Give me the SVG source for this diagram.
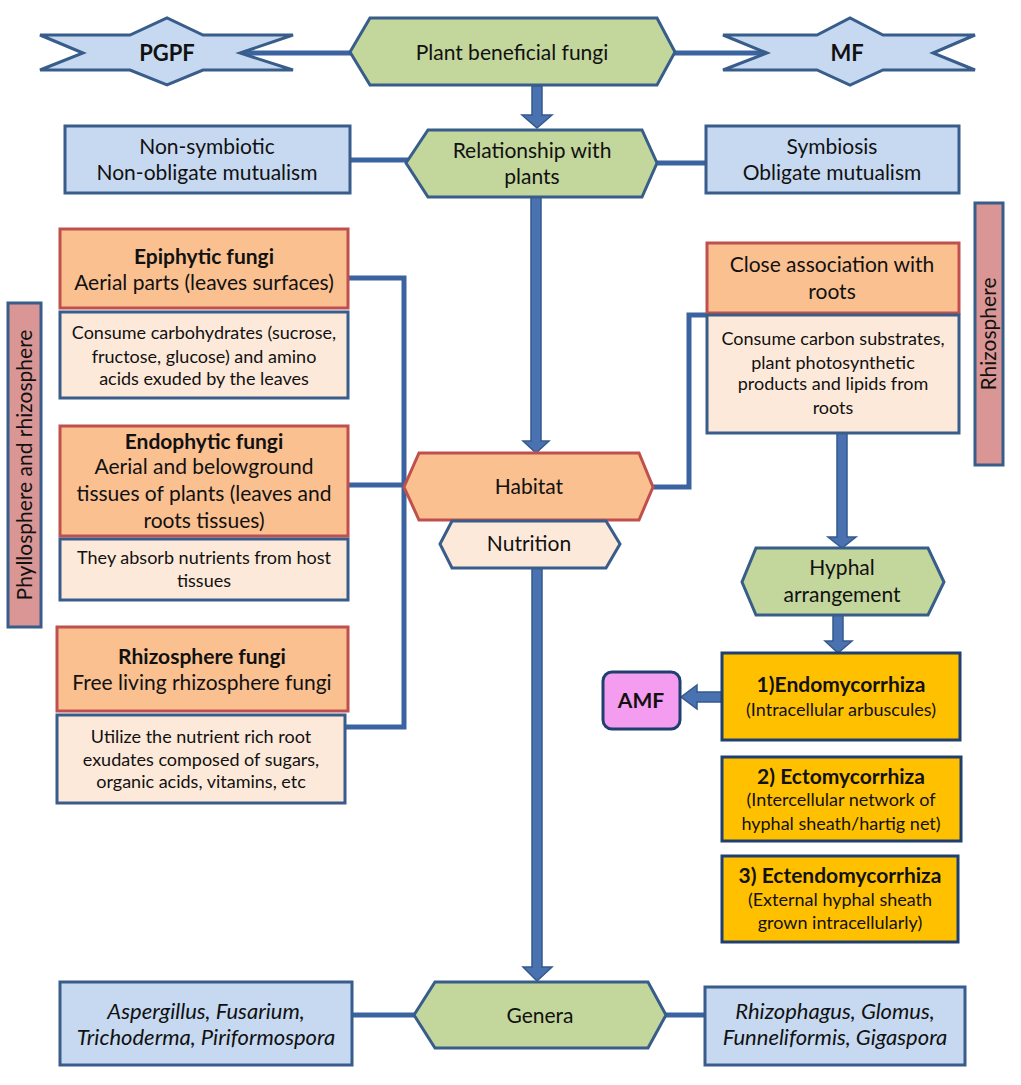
<svg xmlns="http://www.w3.org/2000/svg" width="1021" height="1085" viewBox="0 0 1021 1085">
<style>
text{font-family:Lato,"Liberation Sans",sans-serif;fill:#111;text-anchor:middle}
.t{font-size:21px}
.s{font-size:18px}
.g{font-size:22px}
.h{font-size:21px;font-weight:bold}
.b{font-weight:bold}
.i{font-style:italic}
.blue{fill:#c6d9f1;stroke:#385d8a;stroke-width:3}
.green{fill:#c3d69b;stroke:#385d8a;stroke-width:3}
.orange{fill:#fac090;stroke:#c0504d;stroke-width:3}
.peach{fill:#fde9d9;stroke:#385d8a;stroke-width:3}
.pink{fill:#d99694;stroke:#385d8a;stroke-width:3}
.gold{fill:#ffc000;stroke:#1f3f6e;stroke-width:3}
.amf{fill:#f49cf0;stroke:#1f3f6e;stroke-width:3}
.conn{fill:none;stroke:#3b63a0;stroke-width:5}
.arrow{fill:#4a72b0;stroke:#34598f;stroke-width:1.5}
</style>
<g id="connectors">
<line class="conn" x1="240" y1="53" x2="352" y2="53"/>
<line class="conn" x1="673" y1="53" x2="767" y2="53"/>
<line class="conn" x1="350" y1="160" x2="408" y2="160"/>
<line class="conn" x1="656" y1="163" x2="706" y2="163"/>
<polyline class="conn" points="348,278 404,278 404,727 345,727"/>
<line class="conn" x1="348" y1="485" x2="404" y2="485"/>
<polyline class="conn" points="653,487 689,487 689,315 708,315"/>
<line class="conn" x1="352" y1="1015" x2="415" y2="1015"/>
<line class="conn" x1="665" y1="1015" x2="706" y2="1015"/>
<polygon class="arrow" points="532,86 542,86 542,115 552,115 537,128 522,115 532,115"/>
<polygon class="arrow" points="531,197 541,197 541,441 549,441 536,453 523,441 531,441"/>
<polygon class="arrow" points="532,568 542,568 542,967 552,967 537,981 523,967 532,967"/>
<polygon class="arrow" points="837,433 847,433 847,537 856,537 842,548 828,537 837,537"/>
<polygon class="arrow" points="833,615 843,615 843,641 852,641 838,653 825,641 833,641"/>
<polygon class="arrow" points="722,692 722,702 697,702 697,709 681,697 697,685 697,692"/>
</g>
<g id="pgpf">
<polygon class="blue" points="40,35 130,35 167,18 203,35 293,35 240,53 293,70 203,70 167,85 130,70 40,70 83,53"/>
<text class="b" x="167" y="61" style="font-size:22px">PGPF</text>
</g>
<g id="plant-beneficial-fungi">
<polygon class="green" points="350,52 370,18 657,18 675,52 657,85 370,85"/>
<text class="t" x="512" y="60">Plant beneficial fungi</text>
</g>
<g id="mf">
<polygon class="blue" points="723,35 817,35 850,18 883,35 975,35 933,53 975,70 883,70 850,85 817,70 723,70 767,53"/>
<text class="b" x="847" y="61" style="font-size:22px">MF</text>
</g>
<g id="non-symbiotic">
<rect class="blue" x="65" y="126" width="285" height="67"/>
<text class="t" x="207" y="154">Non-symbiotic</text>
<text class="t" x="207" y="180">Non-obligate mutualism</text>
</g>
<g id="relationship">
<polygon class="green" points="406,163 428,130 642,130 657,163 642,197 428,197"/>
<text class="t" x="532" y="158">Relationship with</text>
<text class="t" x="532" y="184">plants</text>
</g>
<g id="symbiosis">
<rect class="blue" x="706" y="126" width="253" height="67"/>
<text class="t" x="832" y="154">Symbiosis</text>
<text class="t" x="832" y="180">Obligate mutualism</text>
</g>
<g id="phyllosphere-bar">
<rect class="pink" x="8" y="303" width="33" height="324"/>
<text class="t" transform="rotate(-90 25 465)" x="25" y="472">Phyllosphere and rhizosphere</text>
</g>
<g id="epiphytic">
<rect class="orange" x="60" y="229" width="288" height="79"/>
<text class="h" x="204" y="264">Epiphytic fungi</text>
<text class="t" x="204" y="290">Aerial parts (leaves surfaces)</text>
</g>
<g id="epiphytic-nutrition">
<rect class="peach" x="60" y="312" width="288" height="86"/>
<text class="s" x="204" y="339">Consume carbohydrates (sucrose,</text>
<text class="s" x="204" y="363">fructose, glucose) and amino</text>
<text class="s" x="204" y="385">acids exuded by the leaves</text>
</g>
<g id="endophytic">
<rect class="orange" x="60" y="426" width="288" height="110"/>
<text class="h" x="204" y="449">Endophytic fungi</text>
<text class="t" x="204" y="474">Aerial and belowground</text>
<text class="t" x="204" y="501">tissues of plants (leaves and</text>
<text class="t" x="204" y="528">roots tissues)</text>
</g>
<g id="endophytic-nutrition">
<rect class="peach" x="60" y="539" width="288" height="61"/>
<text class="s" x="204" y="564">They absorb nutrients from host</text>
<text class="s" x="204" y="587">tissues</text>
</g>
<g id="rhizosphere-fungi">
<rect class="orange" x="57" y="627" width="291" height="84"/>
<text class="h" x="202" y="664">Rhizosphere fungi</text>
<text class="t" x="202" y="690">Free living rhizosphere fungi</text>
</g>
<g id="rhizosphere-nutrition">
<rect class="peach" x="57" y="715" width="288" height="88"/>
<text class="s" x="201" y="743">Utilize the nutrient rich root</text>
<text class="s" x="201" y="766">exudates composed of sugars,</text>
<text class="s" x="201" y="788">organic acids, vitamins, etc</text>
</g>
<g id="habitat">
<polygon class="orange" points="404,487 419,453 639,453 653,487 639,520 419,520"/>
<text class="t" x="529" y="494">Habitat</text>
</g>
<g id="nutrition">
<polygon class="peach" points="440,544 452,521 606,521 620,544 606,568 452,568"/>
<text class="t" x="529" y="551">Nutrition</text>
</g>
<g id="close-association">
<rect class="orange" x="707" y="243" width="252" height="70"/>
<text class="t" x="832" y="272">Close association with</text>
<text class="t" x="832" y="299">roots</text>
</g>
<g id="close-association-nutrition">
<rect class="peach" x="707" y="315" width="252" height="118"/>
<text class="s" x="833" y="345">Consume carbon substrates,</text>
<text class="s" x="833" y="369">plant photosynthetic</text>
<text class="s" x="833" y="390">products and lipids from</text>
<text class="s" x="833" y="414">roots</text>
</g>
<g id="rhizosphere-bar">
<rect class="pink" x="975" y="203" width="28" height="262"/>
<text class="t" transform="rotate(-90 989 334)" x="989" y="341">Rhizosphere</text>
</g>
<g id="hyphal-arrangement">
<polygon class="green" points="742,582 756,548 928,548 944,582 928,615 756,615"/>
<text class="t" x="842" y="575">Hyphal</text>
<text class="t" x="842" y="602">arrangement</text>
</g>
<g id="endomycorrhiza">
<rect class="gold" x="722" y="653" width="238" height="87"/>
<text class="h" x="841" y="692">1)Endomycorrhiza</text>
<text class="s" x="841" y="716">(Intracellular arbuscules)</text>
</g>
<g id="amf">
<rect class="amf" x="603" y="672" width="77" height="57" rx="9"/>
<text class="h" x="641" y="708">AMF</text>
</g>
<g id="ectomycorrhiza">
<rect class="gold" x="722" y="757" width="239" height="84"/>
<text class="h" x="841" y="784">2) Ectomycorrhiza</text>
<text class="s" x="841" y="806">(Intercellular network of</text>
<text class="s" x="841" y="830">hyphal sheath/hartig net)</text>
</g>
<g id="ectendomycorrhiza">
<rect class="gold" x="722" y="856" width="236" height="86"/>
<text class="h" x="840" y="883">3) Ectendomycorrhiza</text>
<text class="s" x="840" y="906">(External hyphal sheath</text>
<text class="s" x="840" y="929">grown intracellularly)</text>
</g>
<g id="genera">
<polygon class="green" points="414,1015 435,982 648,982 666,1015 648,1048 435,1048"/>
<text class="t" x="540" y="1023">Genera</text>
</g>
<g id="pgpf-genera">
<rect class="blue" x="60" y="982" width="292" height="83"/>
<text class="g i" x="206" y="1019">Aspergillus, Fusarium,</text>
<text class="g i" x="206" y="1045">Trichoderma, Piriformospora</text>
</g>
<g id="mf-genera">
<rect class="blue" x="705" y="987" width="260" height="78"/>
<text class="g i" x="835" y="1019">Rhizophagus, Glomus,</text>
<text class="g i" x="835" y="1045">Funneliformis, Gigaspora</text>
</g>
</svg>
